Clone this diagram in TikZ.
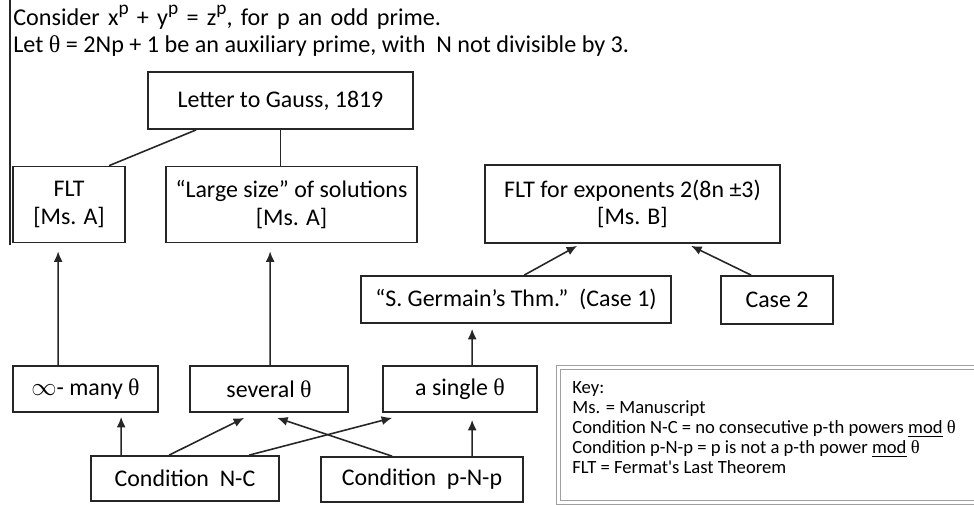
\documentclass[tikz,border=0pt]{standalone}
\usepackage{fontspec}
\setmainfont{Carlito}
\newfontfamily\grk{Liberation Serif}
\usetikzlibrary{arrows.meta,calc}
\newcommand{\thet}{{\grk θ}}
\newcommand{\powp}{\raisebox{0.42em}{\fontsize{11}{11}\selectfont p}}

\tikzset{
  box/.style={draw=black!85, line width=1pt, align=center, inner sep=0pt,
    font=\fontsize{13.6}{15.6}\selectfont},
  head/.style={inner sep=0pt, font=\fontsize{13.75}{15}\selectfont},
  keytext/.style={inner sep=0pt, align=left, font=\fontsize{10.6}{11.4}\selectfont},
  keyframe/.style={draw=gray!75, line width=0.6pt, double=white, double distance=1.4pt},
  link/.style={line width=0.9pt, draw=black!85},
  arr/.style={link, -{Latex[length=2.1mm,width=1.8mm]}},
}

\begin{document}
\begin{tikzpicture}[x=0.02cm, y=-0.02cm]
\useasboundingbox (0,0) rectangle (974,504);

%texto
\draw[link] (10,0) -- (10,245);
\node[head, anchor=base west] (eqn) at (13,25)
  {\spaceskip=4.7pt Consider x\powp{} + y\powp{} = z\powp, for p an odd prime.};
\node[head, anchor=base west] (aux) at (13,52)
  {Let \thet{} = 2Np + 1 be an auxiliary prime, with\ \ N not divisible by 3.};

%nodes
\node[box, minimum width=5.30cm, minimum height=1.14cm] (gauss) at (280.5,100.5) {Letter to Gauss, 1819};
\node[box, minimum width=2.24cm, minimum height=1.52cm] (fltA) at (69,204.5) {FLT\\{[Ms. A]}};
\node[box, minimum width=5.02cm, minimum height=1.52cm] (large) at (291.5,204.5) {“Large size” of solutions\\{[Ms. A]}};
\node[box, minimum width=5.90cm, minimum height=1.56cm] (fltB) at (632.5,204) {FLT for exponents 2(8n ±3)\\{[Ms. B]}};
\node[box, minimum width=6.20cm, minimum height=0.94cm] (germain) at (516,299.5) {“S. Germain’s Thm.”\ \ (Case 1)};
\node[box, minimum width=2.24cm, minimum height=0.96cm] (case2) at (777,300) {Case 2};
\node[box, minimum width=2.90cm, minimum height=0.92cm] (many) at (85.5,389) {$\infty$- many \thet};
\node[box, minimum width=3.16cm, minimum height=0.92cm] (several) at (269,389) {several \thet};
\node[box, minimum width=3.08cm, minimum height=0.92cm] (single) at (460,389) {a single \thet};
\node[box, minimum width=3.76cm, minimum height=0.90cm] (condNC) at (185,478.5) {Condition\ \ N-C};
\node[box, minimum width=4.04cm, minimum height=0.90cm] (condpNp) at (422,479.5) {Condition\ \ p-N-p};

%key
\node[keyframe, anchor=north west, minimum width=8.36cm, minimum height=2.70cm] (keybox) at (558,367) {};
\node[keytext, anchor=north west] (key) at ($(keybox.north west)+(14,14)$)
  {Key:\\
   Ms. = Manuscript\\
   Condition N-C = no consecutive p-th powers \underline{mod} \thet\\
   Condition p-N-p = p is not a p-th power \underline{mod} \thet\\
   FLT = Fermat\textquotesingle s Last Theorem};

%lineas
\draw[link] ($(gauss.south west)+(49,0)$) -- ($(fltA.north west)+(97,0)$);
\draw[link] (gauss.south) -- (gauss.south |- large.north);
\draw[arr] ($(many.north west)+(46,0)$) -- ($(fltA.south west)+(46,8)$);
\draw[arr] ($(several.north west)+(81,0)$) -- ($(large.south west)+(105,8)$);
\draw[arr] ($(single.north west)+(90,0)$) -- ($(germain.south west)+(112,5)$);
\draw[arr] ($(germain.north west)+(164,0)$) -- ($(fltB.south west)+(93,2)$);
\draw[arr] ($(case2.north west)+(31,0)$) -- ($(fltB.south west)+(207,2)$);
\draw[arr] ($(condNC.north west)+(31,0)$) -- ($(many.south west)+(109,4)$);
\draw[arr] ($(condNC.north west)+(79,0)$) -- ($(several.south west)+(55,5)$);
\draw[arr] ($(condNC.north west)+(159,0)$) -- ($(single.south west)+(10,5)$);
\draw[arr] ($(condpNp.north west)+(72,0)$) -- ($(several.south west)+(88,5)$);
\draw[arr] ($(condpNp.north west)+(152,0)$) -- ($(single.south west)+(90,7)$);

\end{tikzpicture}
\end{document}
